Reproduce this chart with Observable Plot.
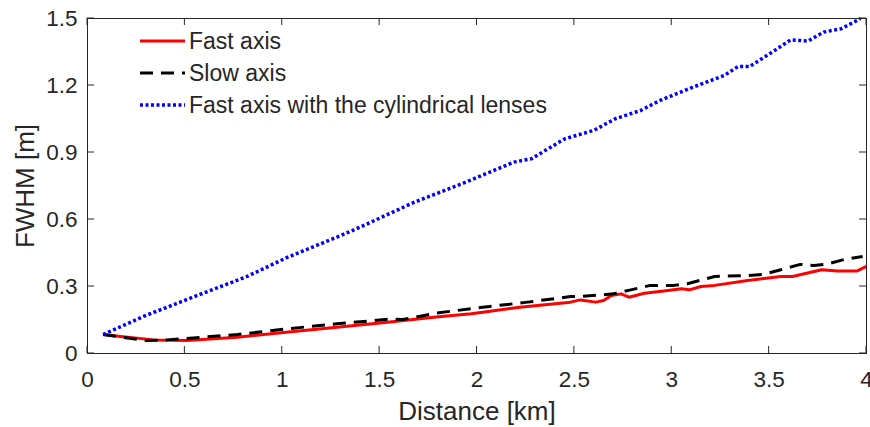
<!DOCTYPE html>
<html>
<head>
<meta charset="utf-8">
<script src="https://cdn.jsdelivr.net/npm/d3@7"></script>
<script src="https://cdn.jsdelivr.net/npm/@observablehq/plot@0.6"></script>
<style>
  html, body { margin: 0; padding: 0; background: #fff; }
  #chart svg { display: block; }
</style>
</head>
<body>
<div id="chart"></div>
<script>
// ---- data ----
const fastX = [0.08, 0.17, 0.34, 0.51, 0.77, 1.02, 1.28, 1.54, 1.79, 1.97, 2.03, 2.22, 2.48, 2.53, 2.61, 2.65, 2.69, 2.74, 2.78, 2.86, 2.98, 3.05, 3.09, 3.15, 3.22, 3.39, 3.56, 3.62, 3.77, 3.85, 3.95, 4.0];
const fastY = [0.085, 0.076, 0.061, 0.058, 0.073, 0.095, 0.118, 0.14, 0.163, 0.178, 0.185, 0.207, 0.23, 0.24, 0.23, 0.237, 0.26, 0.267, 0.252, 0.27, 0.282, 0.29, 0.285, 0.3, 0.305, 0.327, 0.345, 0.345, 0.375, 0.369, 0.369, 0.39];

const slowX = [0.08, 0.30, 0.41, 0.77, 1.02, 1.28, 1.50, 1.56, 1.62, 1.79, 2.03, 2.26, 2.48, 2.53, 2.70, 2.79, 2.89, 3.01, 3.08, 3.22, 3.39, 3.47, 3.56, 3.66, 3.73, 3.79, 3.90, 3.98];
const slowY = [0.085, 0.058, 0.061, 0.085, 0.11, 0.133, 0.15, 0.155, 0.152, 0.181, 0.207, 0.23, 0.255, 0.255, 0.267, 0.285, 0.305, 0.305, 0.312, 0.345, 0.349, 0.354, 0.375, 0.399, 0.394, 0.399, 0.424, 0.434];

const cylX = [0.08, 0.29, 0.54, 0.82, 1.02, 1.30, 1.40, 1.68, 1.93, 2.19, 2.28, 2.45, 2.60, 2.71, 2.84, 2.94, 3.11, 3.27, 3.34, 3.40, 3.49, 3.61, 3.70, 3.78, 3.87, 3.97];
const cylY = [0.085, 0.167, 0.252, 0.345, 0.428, 0.528, 0.566, 0.678, 0.763, 0.857, 0.872, 0.961, 0.999, 1.051, 1.088, 1.133, 1.193, 1.245, 1.285, 1.285, 1.335, 1.404, 1.399, 1.439, 1.454, 1.5];

const xTicks = [0, 0.5, 1, 1.5, 2, 2.5, 3, 3.5, 4];
const yTicks = [0, 0.3, 0.6, 0.9, 1.2, 1.5];
const seriesNames = ["Fast axis", "Slow axis", "Fast axis with the cylindrical lenses"];
const xLabel = "Distance [km]";
const yLabel = "FWHM [m]";

const toRows = (xs, ys) => xs.map((x, i) => ({x, y: ys[i]}));
const fast = toRows(fastX, fastY);
const slow = toRows(slowX, slowY);
const cyl = toRows(cylX, cylY);

const axisColor = "#262626";
const font = "'Liberation Sans', Arial, Helvetica, sans-serif";

const chart = Plot.plot({
  width: 870,
  height: 427,
  marginLeft: 87,
  marginRight: 4,
  marginTop: 18,
  marginBottom: 74,
  style: {fontFamily: font, color: axisColor, background: "#fff"},
  x: {domain: [0, 4]},
  y: {domain: [0, 1.5]},
  marks: [
    Plot.line(fast, {x: "x", y: "y", stroke: "#ff0000", strokeWidth: 3, strokeLinecap: "butt"}),
    Plot.line(slow, {x: "x", y: "y", stroke: "#000000", strokeWidth: 3, strokeDasharray: "13,8", strokeLinecap: "butt"}),
    Plot.line(cyl, {x: "x", y: "y", stroke: "#0000ff", strokeWidth: 3.5, strokeDasharray: "3,2.5", strokeLinecap: "butt"}),
    Plot.axisX({ticks: xTicks, tickSize: 0, tickPadding: 18, tickFormat: d => String(d), fontSize: 22.5, label: xLabel, labelAnchor: "center", labelArrow: "none", labelOffset: 66, stroke: axisColor, fill: axisColor}),
    Plot.axisY({ticks: yTicks, tickSize: 0, tickPadding: 10, tickFormat: d => String(d), fontSize: 22.5, label: yLabel, labelAnchor: "center", labelArrow: "none", labelOffset: 72, stroke: axisColor, fill: axisColor}),
    Plot.frame({stroke: axisColor, strokeWidth: 1})
  ]
});

const svg = d3.select(chart);
// larger axis titles
svg.selectAll("g[aria-label='x-axis label'] text, g[aria-label='y-axis label'] text")
  .attr("font-size", 26);

// inward ticks on all four sides, positioned through the chart's scales
const sx = chart.scale("x"), sy = chart.scale("y");
const edgeL = 87, edgeR = 866, edgeT = 18, edgeB = 353, tickLen = 7;
const tg = svg.append("g").attr("stroke", axisColor).attr("stroke-width", 1);
xTicks.forEach(v => {
  const px = sx.apply(v);
  tg.append("line").attr("x1", px).attr("x2", px).attr("y1", edgeB).attr("y2", edgeB - tickLen);
  tg.append("line").attr("x1", px).attr("x2", px).attr("y1", edgeT).attr("y2", edgeT + tickLen);
});
yTicks.forEach(v => {
  const py = sy.apply(v);
  tg.append("line").attr("y1", py).attr("y2", py).attr("x1", edgeL).attr("x2", edgeL + tickLen);
  tg.append("line").attr("y1", py).attr("y2", py).attr("x1", edgeR).attr("x2", edgeR - tickLen);
});

// legend
const legendStyles = [
  {stroke: "#ff0000", dash: null, width: 3},
  {stroke: "#000000", dash: "13,8", width: 3},
  {stroke: "#0000ff", dash: "3,2.5", width: 3.5}
];
const lg = svg.append("g").attr("font-family", font).attr("font-size", 23)
  .attr("fill", axisColor).attr("text-anchor", "start");
seriesNames.forEach((name, i) => {
  const yy = 41 + i * 32;
  const st = legendStyles[i];
  lg.append("line").attr("x1", 140).attr("x2", 185).attr("y1", yy).attr("y2", yy)
    .attr("stroke", st.stroke).attr("stroke-width", st.width)
    .attr("stroke-dasharray", st.dash).attr("stroke-linecap", "butt");
  lg.append("text").attr("x", 189).attr("y", yy).attr("dy", "0.35em").text(name);
});

document.getElementById("chart").appendChild(chart);
</script>
</body>
</html>
